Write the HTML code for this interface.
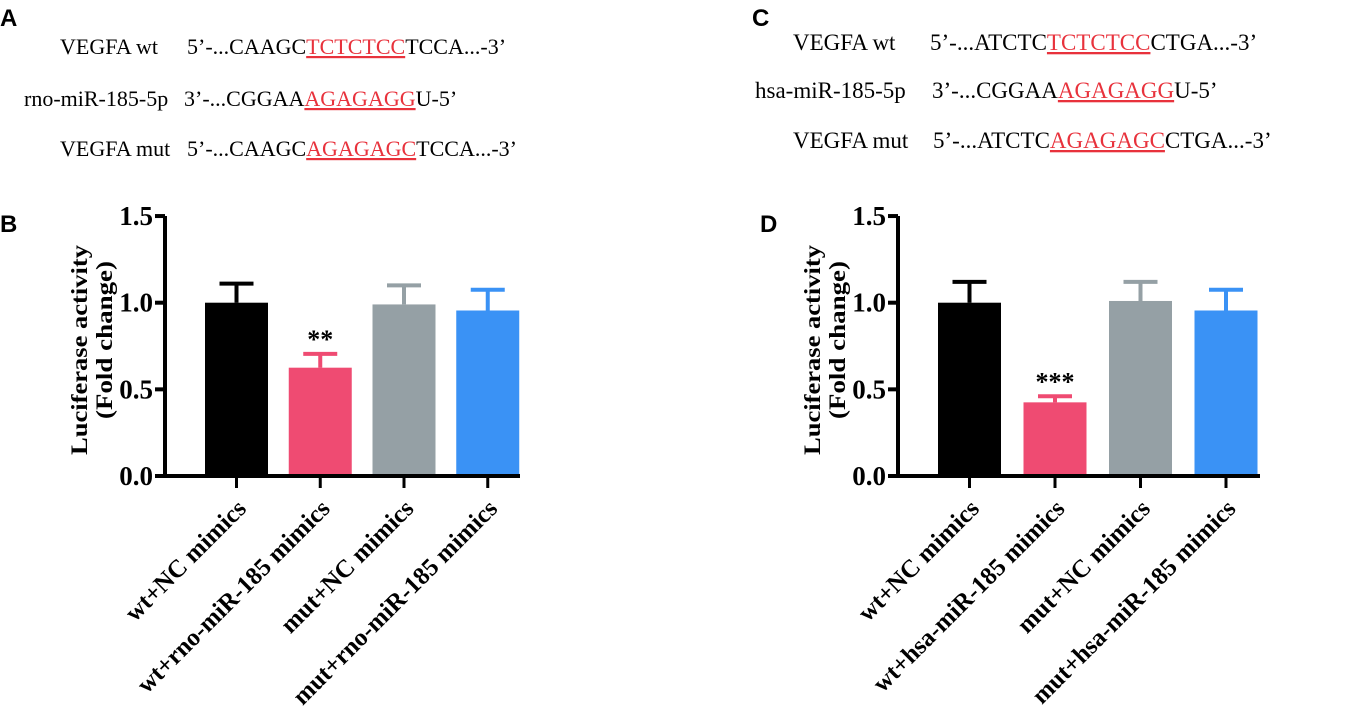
<!DOCTYPE html>
<html><head><meta charset="utf-8"><style>
body{margin:0;background:#fff;}
svg{display:block;font-family:"Liberation Serif",serif;}
</style></head><body>
<svg id="s" width="1356" height="708">
<g font-family="Liberation Sans" font-weight="bold" font-size="24">
<text x="0" y="26">A</text>
<text x="0" y="232">B</text>
<text x="752" y="26">C</text>
<text x="760" y="232">D</text>
</g>
<g font-size="22">
<text x="60" y="54">VEGFA wt</text>
<text x="187" y="54">5’-...CAAGC<tspan fill="#e8323c" text-decoration="underline">TCTCTCC</tspan>TCCA...-3’</text>
<text x="24" y="106">rno-miR-185-5p</text>
<text x="184" y="106">3’-...CGGAA<tspan fill="#e8323c" text-decoration="underline">AGAGAGG</tspan>U-5’</text>
<text x="60" y="156">VEGFA mut</text>
<text x="187" y="156">5’-...CAAGC<tspan fill="#e8323c" text-decoration="underline">AGAGAGC</tspan>TCCA...-3’</text>
</g>
<g font-size="23">
<text x="793" y="50">VEGFA wt</text>
<text x="930" y="50">5’-...ATCTC<tspan fill="#e8323c" text-decoration="underline">TCTCTCC</tspan>CTGA...-3’</text>
<text x="755" y="98">hsa-miR-185-5p</text>
<text x="932" y="98">3’-...CGGAA<tspan fill="#e8323c" text-decoration="underline">AGAGAGG</tspan>U-5’</text>
<text x="793" y="148">VEGFA mut</text>
<text x="933" y="148">5’-...ATCTC<tspan fill="#e8323c" text-decoration="underline">AGAGAGC</tspan>CTGA...-3’</text>
</g>
</svg>
<script>
const catsB=["wt+NC mimics","wt+rno-miR-185 mimics","mut+NC mimics","mut+rno-miR-185 mimics"];
const valsB=[1.0,0.625,0.99,0.955];
const errsB=[0.11,0.08,0.11,0.12];
const sigB=["","**","",""];
const catsD=["wt+NC mimics","wt+hsa-miR-185 mimics","mut+NC mimics","mut+hsa-miR-185 mimics"];
const valsD=[1.0,0.425,1.01,0.955];
const errsD=[0.12,0.035,0.11,0.12];
const sigD=["","***","",""];
const colors=["#000000","#ef4b72","#95a0a5","#3a92f5"];
const ticks=[0,0.5,1.0,1.5];
const tickLabels=["0.0","0.5","1.0","1.5"];
const NS="http://www.w3.org/2000/svg";
const svg=document.getElementById('s');
function mk(tag,attrs,parent){const e=document.createElementNS(NS,tag);for(const k in attrs)e.setAttribute(k,attrs[k]);(parent||svg).appendChild(e);return e;}
function chart(id,ax,x0,x1,cats,vals,errs,sig){
  const y0=476,ppu=173.3;
  const Y=v=>y0-v*ppu;
  const bw=63,step=(x1-ax-20)/cats.length;
  const X=i=>ax+40+step*i+bw/2;
  const g=mk('g',{});
  
  
  vals.forEach((v,i)=>{
    const cx=X(i);
    const b=mk('rect',{x:cx-bw/2,y:Y(v),width:bw,height:Y(0)-Y(v),fill:colors[i]},g);
    
    
    const top=Y(v+errs[i]);
    const e=mk('path',{d:`M${cx},${Y(v)}V${top}M${cx-17},${top}H${cx+17}`,stroke:colors[i],'stroke-width':4,fill:'none'},g);
    
    
    if(sig[i]){const t=mk('text',{x:cx,y:top-6,'text-anchor':'middle','font-size':26,'font-weight':'bold'},g);t.textContent=sig[i];
      
      }
    mk('line',{x1:cx,x2:cx,y1:y0,y2:y0+12,stroke:'#000','stroke-width':3},g);
    const lx=cx+11,ly=510;
    const t=mk('text',{x:lx,y:ly,'text-anchor':'end','font-size':25,'font-weight':'bold',transform:`rotate(-45 ${lx} ${ly})`},g);
    t.textContent=cats[i];
    
    
  });
  mk('path',{d:`M${ax},${Y(1.5)}V${y0}M${ax-10},${y0}H${x1}`,stroke:'#000','stroke-width':4,fill:'none'},g);
  ticks.forEach((t,i)=>{
    mk('line',{x1:ax-10,x2:ax,y1:Y(t),y2:Y(t),stroke:'#000','stroke-width':4},g);
    const l=mk('text',{x:ax-12,y:Y(t)+9,'text-anchor':'end','font-size':27,'font-weight':'bold'},g);
    l.textContent=tickLabels[i];
    
    
  });
  const cy=350;
  const t1=mk('text',{x:ax-78,y:cy,'text-anchor':'middle','font-size':23,'font-weight':'bold',textLength:210,lengthAdjust:'spacingAndGlyphs',transform:`rotate(-90 ${ax-78} ${cy})`},g);
  t1.textContent="Luciferase activity";
  
  
  const t2=mk('text',{x:ax-53,y:cy-10,'text-anchor':'middle','font-size':23,'font-weight':'bold',textLength:158,lengthAdjust:'spacingAndGlyphs',transform:`rotate(-90 ${ax-53} ${cy-10})`},g);
  t2.textContent="(Fold change)";
  
  
}
chart('b',165,165,520,catsB,valsB,errsB,sigB);
chart('d',898,898,1260,catsD,valsD,errsD,sigD);
</script>
</body></html>
